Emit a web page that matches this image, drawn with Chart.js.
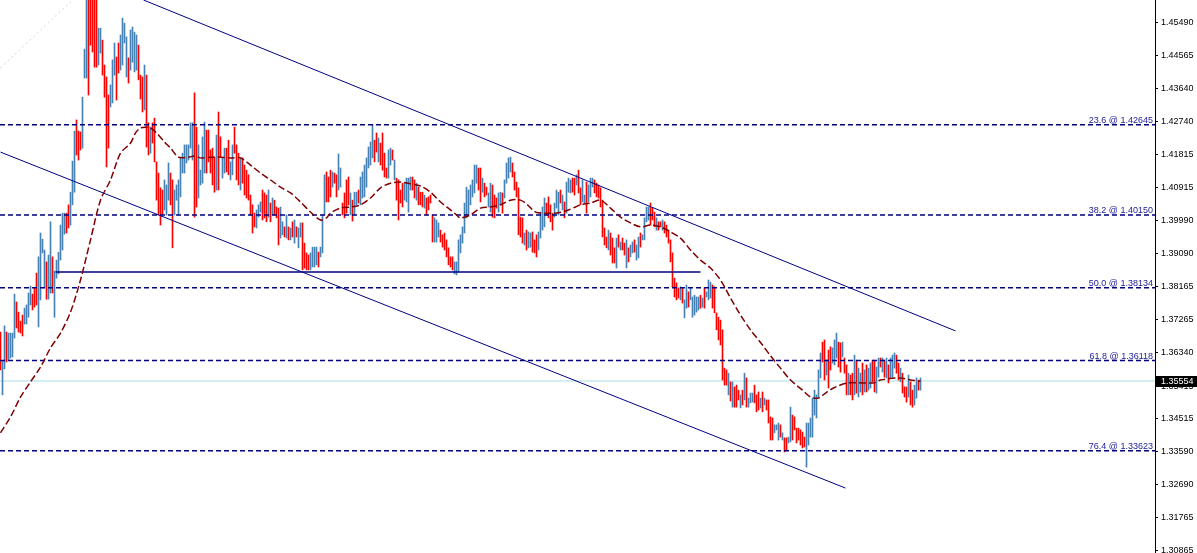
<!DOCTYPE html>
<html>
<head>
<meta charset="utf-8">
<script src="https://cdn.jsdelivr.net/npm/chart.js@4.4.1/dist/chart.umd.min.js"></script>
<style>
html, body { margin: 0; padding: 0; background: #fff; overflow: hidden; }
canvas { display: block; }
</style>
</head>
<body>
<canvas id="chart" width="1197" height="553"></canvas>
<script>
// Price bars, [high, low] per bar, oldest first (one bar per slot)
const barRanges = [
  // 0
  [1.3691,1.3586],[1.3611,1.3517],[1.3708,1.3589],[1.3691,1.3608],[1.3688,1.3613],[1.3688,1.3619],[1.3688,1.3622],[1.3796,1.3674],[1.3774,1.3702],[1.3746,1.3691],
  // 10
  [1.3721,1.3688],[1.3738,1.3680],[1.3757,1.3713],[1.3766,1.3713],[1.3799,1.3732],[1.3818,1.3766],[1.3796,1.3752],[1.3813,1.3760],[1.3854,1.3766],[1.3899,1.3705],
  // 20
  [1.3965,1.3780],[1.3948,1.3910],[1.3918,1.3813],[1.3885,1.3782],[1.3904,1.3782],[1.3996,1.3799],[1.3899,1.3799],[1.3860,1.3732],[1.3890,1.3840],[1.3912,1.3852],
  // 30
  [1.3987,1.3890],[1.4020,1.3918],[1.4020,1.3962],[1.4020,1.3965],[1.4043,1.3979],[1.4078,1.3987],[1.4164,1.4043],[1.4247,1.4078],[1.4278,1.4181],[1.4247,1.4167],
  // 40
  [1.4245,1.4195],[1.4341,1.4200],[1.4474,1.4394],[1.4630,1.4394],[1.4630,1.4347],[1.4630,1.4485],[1.4630,1.4466],[1.4630,1.4424],[1.4630,1.4424],[1.4532,1.4430],
  // 50
  [1.4532,1.4463],[1.4499,1.4402],[1.4430,1.4341],[1.4397,1.4148],[1.4347,1.4200],[1.4375,1.4314],[1.4444,1.4325],[1.4491,1.4402],[1.4452,1.4333],[1.4491,1.4408],
  // 60
  [1.4513,1.4416],[1.4560,1.4430],[1.4546,1.4491],[1.4508,1.4397],[1.4450,1.4380],[1.4527,1.4416],[1.4535,1.4438],[1.4521,1.4411],[1.4513,1.4416],[1.4485,1.4389],
  // 70
  [1.4402,1.4336],[1.4397,1.4300],[1.4430,1.4306],[1.4402,1.4203],[1.4270,1.4181],[1.4258,1.4186],[1.4270,1.4214],[1.4283,1.4162],[1.4162,1.4056],[1.4131,1.4015],
  // 80
  [1.4090,1.3987],[1.4084,1.4015],[1.4112,1.4029],[1.4098,1.4015],[1.4159,1.4056],[1.4131,1.4043],[1.4112,1.3924],[1.4084,1.4015],[1.4098,1.4056],[1.4112,1.4015],
  // 90
  [1.4173,1.4065],[1.4186,1.4131],[1.4209,1.4131],[1.4209,1.4159],[1.4209,1.4167],[1.4270,1.4200],[1.4270,1.4167],[1.4353,1.4009],[1.4258,1.4037],[1.4209,1.4062],
  // 100
  [1.4139,1.4098],[1.4231,1.4103],[1.4272,1.4131],[1.4250,1.4131],[1.4250,1.4162],[1.4195,1.4131],[1.4200,1.4098],[1.4175,1.4078],[1.4236,1.4084],[1.4300,1.4084],
  // 110
  [1.4231,1.4175],[1.4173,1.4117],[1.4200,1.4131],[1.4200,1.4134],[1.4222,1.4126],[1.4162,1.4112],[1.4209,1.4126],[1.4258,1.4186],[1.4209,1.4112],[1.4186,1.4098],
  // 120
  [1.4173,1.4084],[1.4173,1.4103],[1.4153,1.4070],[1.4139,1.4062],[1.4126,1.4056],[1.4070,1.4015],[1.4043,1.3965],[1.4020,1.3982],[1.4029,1.3979],[1.4043,1.4009],
  // 130
  [1.4051,1.4023],[1.4084,1.4001],[1.4076,1.4007],[1.4070,1.3996],[1.4084,1.4009],[1.4048,1.3996],[1.4062,1.4015],[1.4056,1.4015],[1.4037,1.4007],[1.4034,1.3932],
  // 140
  [1.4037,1.3951],[1.3996,1.3960],[1.3982,1.3954],[1.4015,1.3951],[1.3982,1.3946],[1.3979,1.3946],[1.3996,1.3954],[1.4001,1.3937],[1.3982,1.3954],[1.3979,1.3924],
  // 150
  [1.3993,1.3954],[1.3993,1.3863],[1.3937,1.3868],[1.3910,1.3863],[1.3904,1.3863],[1.3910,1.3863],[1.3926,1.3871],[1.3926,1.3871],[1.3926,1.3877],[1.3912,1.3871],
  // 160
  [1.3926,1.3899],[1.4015,1.3910],[1.4126,1.4015],[1.4134,1.4051],[1.4120,1.4051],[1.4139,1.4065],[1.4134,1.4092],[1.4131,1.4103],[1.4126,1.4065],[1.4184,1.4084],
  // 170
  [1.4145,1.4092],[1.4048,1.4015],[1.4076,1.4007],[1.4112,1.4020],[1.4120,1.4043],[1.4076,1.4015],[1.4056,1.3998],[1.4078,1.4015],[1.4078,1.4043],[1.4084,1.4048],
  // 180
  [1.4120,1.4043],[1.4134,1.4062],[1.4153,1.4065],[1.4173,1.4092],[1.4203,1.4145],[1.4217,1.4153],[1.4264,1.4173],[1.4222,1.4162],[1.4242,1.4189],[1.4228,1.4162],
  // 190
  [1.4214,1.4153],[1.4242,1.4139],[1.4186,1.4120],[1.4145,1.4117],[1.4195,1.4117],[1.4200,1.4153],[1.4195,1.4167],[1.4167,1.4112],[1.4117,1.4056],[1.4112,1.4001],
  // 200
  [1.4084,1.4048],[1.4103,1.4037],[1.4103,1.4056],[1.4117,1.4051],[1.4117,1.4023],[1.4120,1.4084],[1.4120,1.4084],[1.4112,1.4062],[1.4103,1.4056],[1.4092,1.4043],
  // 210
  [1.4078,1.4043],[1.4078,1.4037],[1.4070,1.4034],[1.4062,1.4015],[1.4065,1.4029],[1.4070,1.4048],[1.4015,1.3940],[1.4007,1.3940],[1.4001,1.3940],[1.3993,1.3954],
  // 220
  [1.3973,1.3940],[1.3960,1.3926],[1.3965,1.3918],[1.3946,1.3899],[1.3924,1.3877],[1.3899,1.3871],[1.3899,1.3863],[1.3885,1.3852],[1.3885,1.3849],[1.3946,1.3857],
  // 230
  [1.3960,1.3910],[1.3982,1.3937],[1.4048,1.3965],[1.4092,1.4007],[1.4084,1.4015],[1.4098,1.4043],[1.4112,1.4065],[1.4153,1.4076],[1.4153,1.4103],[1.4145,1.4084],
  // 240
  [1.4145,1.4051],[1.4117,1.4078],[1.4103,1.4065],[1.4092,1.4070],[1.4076,1.4037],[1.4103,1.4023],[1.4098,1.4009],[1.4070,1.4007],[1.4062,1.4034],[1.4076,1.4023],
  // 250
  [1.4078,1.4043],[1.4076,1.4020],[1.4112,1.4062],[1.4159,1.4103],[1.4173,1.4117],[1.4175,1.4134],[1.4159,1.4120],[1.4134,1.4084],[1.4106,1.4065],[1.4090,1.3960],
  // 260
  [1.4009,1.3954],[1.4007,1.3937],[1.3965,1.3932],[1.3973,1.3918],[1.3968,1.3924],[1.3965,1.3926],[1.3968,1.3912],[1.3946,1.3910],[1.3960,1.3899],[1.3968,1.3918],
  // 270
  [1.4023,1.3951],[1.4037,1.3973],[1.4062,1.3982],[1.4048,1.4015],[1.4065,1.4007],[1.4043,1.3996],[1.4020,1.3973],[1.4048,1.4009],[1.4084,1.4034],[1.4078,1.4015],
  // 280
  [1.4084,1.4048],[1.4070,1.4029],[1.4051,1.4007],[1.4106,1.4020],[1.4117,1.4078],[1.4112,1.4076],[1.4117,1.4078],[1.4117,1.4070],[1.4126,1.4098],[1.4139,1.4076],
  // 290
  [1.4090,1.4043],[1.4112,1.4051],[1.4070,1.4048],[1.4106,1.4020],[1.4098,1.4051],[1.4117,1.4065],[1.4117,1.4092],[1.4112,1.4076],[1.4103,1.4065],[1.4098,1.4062],
  // 300
  [1.4090,1.4037],[1.4056,1.3954],[1.3979,1.3932],[1.3954,1.3924],[1.3973,1.3918],[1.3965,1.3904],[1.3951,1.3882],[1.3924,1.3882],[1.3951,1.3868],[1.3960,1.3926],
  // 310
  [1.3940,1.3918],[1.3951,1.3918],[1.3937,1.3904],[1.3946,1.3868],[1.3924,1.3885],[1.3932,1.3899],[1.3940,1.3910],[1.3946,1.3912],[1.3932,1.3890],[1.3954,1.3896],
  // 320
  [1.3965,1.3926],[1.3960,1.3946],[1.4007,1.3946],[1.4037,1.3996],[1.4037,1.4001],[1.4048,1.3987],[1.4034,1.4001],[1.4023,1.3982],[1.4007,1.3973],[1.3996,1.3973],
  // 330
  [1.3996,1.3982],[1.4001,1.3973],[1.3996,1.3965],[1.3987,1.3954],[1.3973,1.3937],[1.3946,1.3885],[1.3910,1.3816],[1.3840,1.3788],[1.3827,1.3780],[1.3813,1.3785],
  // 340
  [1.3816,1.3780],[1.3813,1.3771],[1.3780,1.3730],[1.3821,1.3757],[1.3802,1.3760],[1.3813,1.3780],[1.3788,1.3732],[1.3793,1.3738],[1.3788,1.3746],[1.3788,1.3752],
  // 350
  [1.3793,1.3757],[1.3785,1.3760],[1.3813,1.3757],[1.3802,1.3788],[1.3835,1.3780],[1.3829,1.3785],[1.3821,1.3757],[1.3816,1.3744],[1.3744,1.3697],[1.3732,1.3669],
  // 360
  [1.3724,1.3655],[1.3697,1.3558],[1.3591,1.3544],[1.3586,1.3544],[1.3577,1.3517],[1.3553,1.3500],[1.3553,1.3483],[1.3539,1.3483],[1.3544,1.3483],[1.3530,1.3503],
  // 370
  [1.3517,1.3481],[1.3530,1.3489],[1.3577,1.3503],[1.3564,1.3483],[1.3508,1.3483],[1.3522,1.3495],[1.3522,1.3497],[1.3544,1.3495],[1.3517,1.3470],[1.3525,1.3475],
  // 380
  [1.3508,1.3481],[1.3525,1.3470],[1.3508,1.3489],[1.3503,1.3475],[1.3503,1.3439],[1.3456,1.3392],[1.3453,1.3392],[1.3434,1.3412],[1.3434,1.3420],[1.3439,1.3392],
  // 390
  [1.3434,1.3400],[1.3412,1.3392],[1.3398,1.3359],[1.3398,1.3364],[1.3400,1.3384],[1.3483,1.3387],[1.3461,1.3392],[1.3456,1.3420],[1.3425,1.3384],[1.3425,1.3392],
  // 400
  [1.3420,1.3378],[1.3414,1.3370],[1.3400,1.3373],[1.3439,1.3317],[1.3439,1.3378],[1.3453,1.3400],[1.3508,1.3400],[1.3530,1.3461],[1.3517,1.3453],[1.3586,1.3508],
  // 410
  [1.3633,1.3564],[1.3663,1.3608],[1.3669,1.3558],[1.3614,1.3572],[1.3641,1.3536],[1.3650,1.3586],[1.3647,1.3605],[1.3669,1.3600],[1.3688,1.3619],[1.3663,1.3594],
  // 420
  [1.3661,1.3580],[1.3663,1.3622],[1.3619,1.3577],[1.3600,1.3517],[1.3577,1.3517],[1.3572,1.3517],[1.3577,1.3503],[1.3627,1.3517],[1.3613,1.3522],[1.3591,1.3511],
  // 430
  [1.3577,1.3525],[1.3605,1.3517],[1.3586,1.3525],[1.3600,1.3525],[1.3591,1.3530],[1.3605,1.3536],[1.3613,1.3553],[1.3613,1.3525],[1.3594,1.3522],[1.3619,1.3566],
  // 440
  [1.3619,1.3594],[1.3619,1.3580],[1.3613,1.3566],[1.3619,1.3564],[1.3600,1.3550],[1.3619,1.3564],[1.3627,1.3566],[1.3633,1.3591],[1.3627,1.3577],[1.3605,1.3558],
  // 450
  [1.3591,1.3553],[1.3577,1.3522],[1.3539,1.3511],[1.3539,1.3497],[1.3572,1.3511],[1.3553,1.3489],[1.3530,1.3483],[1.3544,1.3489],[1.3564,1.3508],[1.3558,1.3530],
  // 460
  [1.3564,1.3530]
];

// u = up bar (blue), d = down bar (red), same order as barRanges, ten per chunk
const barDir = [
  "duuduuuudd", "dduuuudddu", "uuuduuduuu", "uuudduuudd", "duuudddddu",
  "udddduuudd", "uuuuduuuud", "dduddudddd", "dduuudduuu", "uuuuuuuddu",
  "uuudddddud", "duudduuddd", "uddddddduu", "udddududdd", "uududududu",
  "udddduuuud", "uuuddduddu", "udddduduud", "uuuuuuuddu", "dddduududd",
  "dduuuuddud", "ddudddduuu", "ddddddduuu", "uuuuuuuuud", "dudduudddu",
  "uduuuudddd", "dduduudddu", "uuudddduuu", "duduuuddud", "duuduuuddd",
  "ddddudddud", "udduduuduu", "duuuudddud", "dudddddddd", "uduuduuuuu",
  "duduuudddd", "ddddududdd", "ududuuuddd", "ududddduuu", "dudduudddd",
  "ddduuuuuuu", "uddudduuud", "dudduddudu", "ududuudduu", "dududuuudd",
  "udddudduud", "u"
].join("");

// moving average (bar index, price)
const maIndex = [0, 5, 10, 15, 20, 25, 30, 35, 40, 45, 50, 55, 60, 65, 67.5, 70, 73, 75, 78, 82,
  85, 89, 94, 97, 100, 105, 110, 115, 120, 125, 130, 135, 140, 145, 150, 155, 160, 163, 165, 170,
  175, 180, 185, 190, 195, 200, 205, 210, 215, 220, 225, 228, 230, 235, 240, 245, 250, 255, 260, 263.5,
  267.5, 272.5, 277.5, 282.5, 287.5, 290, 295, 300, 305, 310, 315, 320, 325, 330, 335, 340, 345, 350, 355, 360,
  365, 370, 375, 381, 385, 390, 395, 401, 405, 409, 412.5, 416.5, 423.5, 436.5, 440, 450, 455, 460];
const maPrice = [1.3412, 1.3456, 1.3511, 1.3553, 1.3594, 1.3647, 1.3688, 1.3746, 1.3835, 1.3946, 1.4056, 1.4112, 1.4186, 1.4214, 1.4242, 1.4256, 1.4258, 1.4256, 1.4242, 1.4217,
  1.4200, 1.4175, 1.4175, 1.4178, 1.4173, 1.4175, 1.4175, 1.4173, 1.4173, 1.4153, 1.4131, 1.4112, 1.4092, 1.4076, 1.4051, 1.4023, 1.4001, 1.4007, 1.4020, 1.4034,
  1.4037, 1.4043, 1.4062, 1.4090, 1.4103, 1.4106, 1.4101, 1.4095, 1.4078, 1.4051, 1.4029, 1.4015, 1.4007, 1.4015, 1.4034, 1.4037, 1.4043, 1.4056, 1.4056, 1.4043,
  1.4023, 1.4020, 1.4020, 1.4026, 1.4037, 1.4043, 1.4048, 1.4056, 1.4034, 1.4009, 1.3993, 1.3982, 1.3987, 1.3982, 1.3968, 1.3951, 1.3918, 1.3890, 1.3868, 1.3835,
  1.3785, 1.3738, 1.3697, 1.3655, 1.3625, 1.3591, 1.3558, 1.3530, 1.3511, 1.3508, 1.3522, 1.3536, 1.3550, 1.3550, 1.3558, 1.3564, 1.3558, 1.3555];

// trend lines (bar index, price) at their two anchors
const upperX = [71.5, 477.5];
const upperY = [1.4610, 1.3694];
const lowerX = [0, 422.5];
const lowerY = [1.4189, 1.3259];
const flatX = [27.5, 350];
const flatY = [1.3857, 1.3857];
const faintX = [0, 36];
const faintY = [1.4422, 1.4610];

// Fibonacci retracement levels
const fibRatios = [23.6, 38.2, 50.0, 61.8, 76.4];
const fibPrices = [1.42645, 1.40150, 1.38134, 1.36118, 1.33623];

const lastPrice = 1.35554;

const tickValues = [1.45490, 1.44565, 1.43640, 1.42740, 1.41815, 1.40915, 1.39990, 1.39090,
  1.38165, 1.37265, 1.36340, 1.35415, 1.34515, 1.33590, 1.32690, 1.31765, 1.30865];

const UP_COLOR = "#4682b4";
const DOWN_COLOR = "#ff0000";
const NAVY = "#000080";
const FONT = "Liberation Sans";

function pts(xs, ys) {
  return xs.map(function (x, i) { return { x: x, y: ys[i] }; });
}

function lineSet(data, color, width, dash, order) {
  return {
    type: "line",
    data: data,
    borderColor: color,
    borderWidth: width,
    borderDash: dash || [],
    pointRadius: 0,
    fill: false,
    tension: 0,
    order: order
  };
}

const span = [-0.25, 577.25];

const bars = barRanges.map(function (r, i) { return { x: i, y: [r[1], r[0]] }; });
const barColors = barRanges.map(function (r, i) {
  return barDir.charAt(i) === "u" ? UP_COLOR : DOWN_COLOR;
});

const datasets = [];
datasets.push(lineSet(pts(span, [lastPrice, lastPrice]), "#a9dde6", 1, null, 30));
datasets.push({
  type: "bar",
  data: bars,
  backgroundColor: barColors,
  barThickness: 1,
  borderWidth: 0,
  order: 20
});
fibPrices.forEach(function (p) {
  datasets.push(lineSet(pts(span, [p, p]), NAVY, 1.5, [5, 3], 6));
});
datasets.push(lineSet(pts(upperX, upperY), NAVY, 1, null, 5));
datasets.push(lineSet(pts(lowerX, lowerY), NAVY, 1, null, 5));
datasets.push(lineSet(pts(flatX, flatY), NAVY, 1.5, null, 5));
datasets.push(lineSet(pts(faintX, faintY), "#cfcff0", 1, [2, 3], 5));
const ma = lineSet(pts(maIndex, maPrice), "#800000", 1.5, [7, 3], 1);
ma.tension = 0.3;
datasets.push(ma);

// fib captions above the dashed levels
const fibLabels = {
  id: "fibLabels",
  afterDatasetsDraw: function (chart) {
    const c = chart.ctx;
    const y = chart.scales.y;
    c.save();
    c.font = "9px '" + FONT + "'";
    c.fillStyle = "#22229a";
    c.textAlign = "right";
    c.textBaseline = "alphabetic";
    fibPrices.forEach(function (p, i) {
      const py = y.getPixelForValue(p);
      c.fillText(fibRatios[i].toFixed(1) + " @ " + p.toFixed(5), chart.chartArea.right - 2, py - 2);
    });
    c.restore();
  }
};

// black box with the last price on the axis
const priceTag = {
  id: "priceTag",
  afterDraw: function (chart) {
    const c = chart.ctx;
    const py = Math.round(chart.scales.y.getPixelForValue(lastPrice));
    const left = chart.chartArea.right + 1;
    c.save();
    c.fillStyle = "#000";
    c.fillRect(left, py - 5, chart.width - left, 11);
    c.fillStyle = "#fff";
    c.font = "9px '" + FONT + "'";
    c.textBaseline = "middle";
    c.fillText(lastPrice.toFixed(5), left + 5, py + 0.5);
    c.restore();
  }
};

new Chart(document.getElementById("chart"), {
  type: "bar",
  data: { datasets: datasets },
  options: {
    responsive: false,
    animation: false,
    devicePixelRatio: 1,
    layout: { padding: 0 },
    plugins: { legend: { display: false }, tooltip: { enabled: false } },
    scales: {
      x: {
        type: "linear",
        min: span[0],
        max: span[1],
        offset: false,
        display: false
      },
      y: {
        type: "linear",
        position: "right",
        min: 1.30793,
        max: 1.4610,
        beginAtZero: false,
        afterBuildTicks: function (scale) {
          scale.ticks = tickValues.map(function (v) { return { value: v }; });
        },
        afterFit: function (scale) {
          scale.width = 42;
          scale.paddingTop = 0;
          scale.paddingBottom = 0;
        },
        border: { display: true, color: "#000", width: 1 },
        grid: { drawOnChartArea: false, drawTicks: true, tickLength: 3, color: "#000" },
        ticks: {
          autoSkip: false,
          maxRotation: 0,
          padding: 3,
          color: "#000",
          font: { family: FONT, size: 9 },
          callback: function (v) { return Number(v).toFixed(5); }
        }
      }
    }
  },
  plugins: [fibLabels, priceTag]
});
</script>
</body>
</html>
